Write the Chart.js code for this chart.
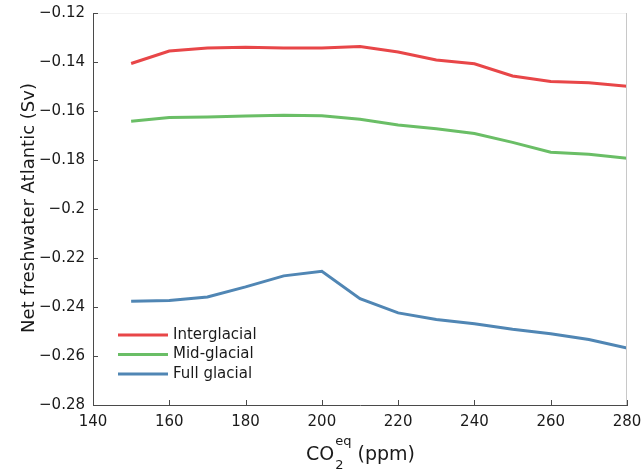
<!DOCTYPE html>
<html><head><meta charset="utf-8">
<script src="https://cdn.jsdelivr.net/npm/chart.js@4.4.0/dist/chart.umd.min.js"></script>
<style>html,body{margin:0;padding:0;background:#fff}canvas{display:block}</style>
</head><body>
<canvas id="c" width="644" height="472"></canvas>
<script>
const co2 = [150,160,170,180,190,200,210,220,230,240,250,260,270,280];
const interglacial = [-0.1406,-0.1355,-0.1343,-0.1340,-0.1343,-0.1343,-0.1337,-0.1359,-0.1392,-0.1407,-0.1457,-0.1480,-0.1485,-0.1499];
const midglacial = [-0.1642,-0.1627,-0.1624,-0.1620,-0.1617,-0.1619,-0.1634,-0.1657,-0.1672,-0.1692,-0.1728,-0.1768,-0.1777,-0.1793];
const fullglacial = [-0.2377,-0.2373,-0.2359,-0.2318,-0.2273,-0.2254,-0.2366,-0.2424,-0.2451,-0.2468,-0.2491,-0.2509,-0.2533,-0.2567];
const seriesNames = ['Interglacial','Mid-glacial','Full glacial'];
const xTicks = [140,160,180,200,220,240,260,280];
const yTicks = [-0.28,-0.26,-0.24,-0.22,-0.2,-0.18,-0.16,-0.14,-0.12];
const colors = ['rgb(232,70,72)','rgb(106,190,102)','rgb(80,134,180)'];
const FONT = '"DejaVu Sans", sans-serif';
const AX = '#4a4a4a';

function pts(ys){ return co2.map((x,i)=>({x:x,y:ys[i]})); }
function fmt(v){ return String(Number(v.toFixed(2))).replace('-','\u2212'); }

const deco = {
  id:'deco',
  afterDraw(chart){
    const ctx = chart.ctx, a = chart.chartArea, xs = chart.scales.x, ys = chart.scales.y;
    ctx.save();
    ctx.strokeStyle = '#f2f2f2'; ctx.lineWidth = 1;
    ctx.beginPath(); ctx.moveTo(a.left, a.top+0.5); ctx.lineTo(a.right, a.top+0.5); ctx.stroke();
    ctx.strokeStyle = '#c8c8c8';
    ctx.beginPath(); ctx.moveTo(a.right-0.5, a.top); ctx.lineTo(a.right-0.5, a.bottom); ctx.stroke();
    ctx.strokeStyle = AX; ctx.lineWidth = 1;
    ctx.beginPath();
    xTicks.forEach(v=>{ const p = Math.round(xs.getPixelForValue(v))+0.5; ctx.moveTo(p,a.bottom); ctx.lineTo(p,a.bottom-5); });
    yTicks.forEach(v=>{ const p = Math.round(ys.getPixelForValue(v))+0.5; ctx.moveTo(a.left,p); ctx.lineTo(a.left+5,p); });
    ctx.stroke();
    // legend
    ctx.font = '15px ' + FONT; ctx.textBaseline = 'middle'; ctx.fillStyle = '#1a1a1a';
    chart.data.datasets.forEach((d,i)=>{
      const y = 335 + i*19.5;
      ctx.strokeStyle = d.borderColor; ctx.lineWidth = 3;
      ctx.beginPath(); ctx.moveTo(118,y); ctx.lineTo(168,y); ctx.stroke();
      ctx.fillText(d.label, 173, y);
    });
    // y title
    ctx.save();
    ctx.translate(28, 208);
    ctx.rotate(-Math.PI/2);
    ctx.font = '18px ' + FONT; ctx.textAlign = 'center'; ctx.textBaseline = 'alphabetic';
    ctx.fillText('Net freshwater Atlantic (Sv)', 0, 6);
    ctx.restore();
    // x title: CO2^eq (ppm)
    const base = 460;
    ctx.textBaseline = 'alphabetic'; ctx.textAlign = 'left';
    const f1 = '19px ' + FONT, f2 = '13px ' + FONT;
    ctx.font = f1; const wCO = ctx.measureText('CO').width; const wP = ctx.measureText(' (ppm)').width;
    ctx.font = f2; const wEq = ctx.measureText('eq').width;
    const total = wCO + wEq + wP;
    let x0 = (a.left + a.right)/2 - total/2;
    ctx.font = f1; ctx.fillText('CO', x0, base);
    ctx.font = f2; ctx.fillText('2', x0 + wCO + 1, base + 9); ctx.fillText('eq', x0 + wCO + 1, base - 15);
    ctx.font = f1; ctx.fillText(' (ppm)', x0 + wCO + wEq + 1, base);
    ctx.restore();
  }
};

new Chart(document.getElementById('c'), {
  type:'line',
  data:{ datasets:[
    {label:seriesNames[0], data:pts(interglacial), borderColor:colors[0]},
    {label:seriesNames[1], data:pts(midglacial), borderColor:colors[1]},
    {label:seriesNames[2], data:pts(fullglacial), borderColor:colors[2]}
  ].map(d=>Object.assign(d,{borderWidth:3, pointRadius:0, tension:0, fill:false}))},
  options:{
    responsive:false, animation:false, devicePixelRatio:1,
    layout:{autoPadding:false, padding:{top:13, right:17, left:0, bottom:0}},
    plugins:{legend:{display:false}, tooltip:{enabled:false}},
    scales:{
      x:{type:'linear', min:140, max:280,
        afterBuildTicks(s){ s.ticks = xTicks.map(v=>({value:v})); },
        afterFit(s){ s.height = 67; s.paddingLeft = 0; s.paddingRight = 0; },
        grid:{display:false, drawTicks:false},
        border:{display:true, color:AX, width:1},
        ticks:{font:{family:FONT, size:15}, color:'#1a1a1a', padding:8, maxRotation:0, callback:v=>String(v)}
      },
      y:{type:'linear', min:-0.28, max:-0.12,
        afterBuildTicks(s){ s.ticks = yTicks.map(v=>({value:v})); },
        afterFit(s){ s.width = 93; s.paddingTop = 0; s.paddingBottom = 0; },
        grid:{display:false, drawTicks:false},
        border:{display:true, color:AX, width:1},
        ticks:{font:{family:FONT, size:15}, color:'#1a1a1a', padding:8, callback:v=>fmt(v)}
      }
    }
  },
  plugins:[deco]
});
</script>
</body></html>
